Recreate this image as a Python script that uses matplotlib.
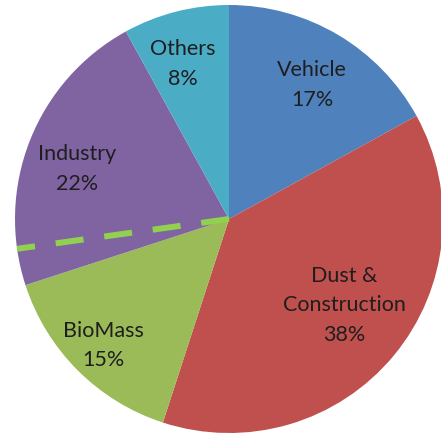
import numpy as np
import matplotlib
matplotlib.use("Agg")
import matplotlib.pyplot as plt

# pollution source shares (%), clockwise from 12 o'clock
sources = ["Vehicle", "Dust &\nConstruction", "BioMass", "Industry", "Others"]
shares = [17, 38, 15, 22, 8]
colors = ["#4F81BD", "#C0504D", "#9BBB59", "#8064A2", "#4BACC6"]

# label placement: fraction of radius, and small angle nudge (deg)
label_dist = [0.74, 0.67, 0.83, 0.75, 0.76]
label_nudge = [-1, 3, 0, 3, 2]

# dashed divider drawn inside the Industry slice (degrees, counter-clockwise from 3 o'clock)
divider_angle = 188

fig = plt.figure(figsize=(4.41, 4.39), dpi=100)
ax = fig.add_axes([0, 0, 1, 1])

wedges, _ = ax.pie(shares, colors=colors, startangle=90, counterclock=False,
                   radius=1.0, wedgeprops=dict(linewidth=0))

for w, name, pct, d, nud in zip(wedges, sources, shares, label_dist, label_nudge):
    mid = np.deg2rad((w.theta1 + w.theta2) / 2 + nud)
    ax.text(d * np.cos(mid), d * np.sin(mid), "%s\n%d%%" % (name, pct),
            ha="center", va="center", fontsize=15.5, color="#1e1e1e",
            family="Lato", linespacing=1.6)

t = np.deg2rad(divider_angle)
ax.plot([0, np.cos(t)], [0, np.sin(t)], color="#92D050", lw=4.3,
        ls=(0, (4.7, 3.5)), dash_capstyle="butt")

ax.set_xlim(-229 / 214, 212 / 214)
ax.set_ylim(-219 / 214, 220 / 214)
ax.set_aspect("auto")
ax.axis("off")

fig.savefig("out.png", dpi=100)
